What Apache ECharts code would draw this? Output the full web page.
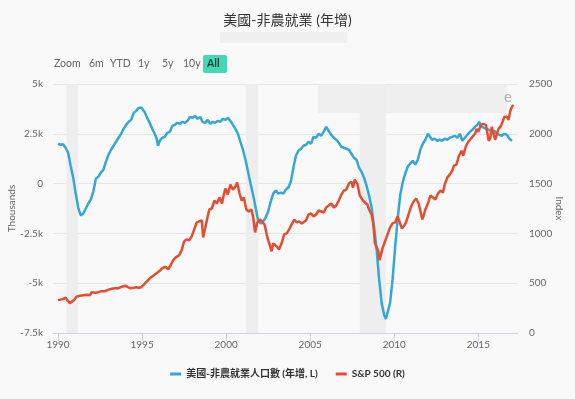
<!DOCTYPE html>
<html>
<head>
<meta charset="utf-8">
<script src="https://cdn.jsdelivr.net/npm/echarts/dist/echarts.min.js"></script>
<style>
  html, body { margin: 0; padding: 0; background: #f9f9f9; }
  #chars { width: 575px; height: 399px; }
</style>
</head>
<body>
<div id="chars"></div>
<script>
// 非農就業 年增 (千人) —— 年份用小數表示
var blueYears = [1990.0,1990.15,1990.3,1990.45,1990.6,1990.75,1990.9,1991.05,1991.2,1991.35,1991.5,1991.65,1991.8,1991.95,
  1992.1,1992.25,1992.4,1992.55,1992.7,1992.85,1993.0,1993.15,1993.3,1993.45,1993.6,1993.75,1993.9,1994.05,1994.2,1994.35,
  1994.5,1994.65,1994.8,1994.95,1995.05,1995.15,1995.3,1995.45,1995.6,1995.75,1995.85,1995.95,1996.05,1996.2,1996.35,1996.5,
  1996.65,1996.8,1996.95,1997.1,1997.25,1997.4,1997.55,1997.7,1997.85,1998.0,1998.15,1998.3,1998.45,1998.6,1998.75,1998.9,
  1999.05,1999.2,1999.35,1999.5,1999.65,1999.8,1999.95,2000.1,2000.25,2000.4,2000.55,2000.7,2000.85,2001.0,2001.15,2001.3,
  2001.45,2001.6,2001.75,2001.9,2002.05,2002.2,2002.35,2002.5,2002.65,2002.8,2002.95,2003.1,2003.25,2003.4,2003.55,2003.7,
  2003.85,2004.0,2004.15,2004.3,2004.45,2004.6,2004.75,2004.9,2005.05,2005.2,2005.35,2005.5,2005.65,2005.8,2005.95,2006.1,
  2006.25,2006.4,2006.55,2006.7,2006.85,2007.0,2007.15,2007.3,2007.45,2007.6,2007.75,2007.9,2008.05,2008.2,2008.35,2008.5,
  2008.65,2008.8,2008.95,2009.1,2009.25,2009.4,2009.5,2009.6,2009.75,2009.9,2010.05,2010.2,2010.35,2010.5,2010.65,2010.8,
  2010.95,2011.1,2011.25,2011.4,2011.55,2011.7,2011.85,2012.0,2012.1,2012.25,2012.4,2012.55,2012.7,2012.85,2013.0,2013.15,
  2013.3,2013.45,2013.6,2013.75,2013.9,2014.05,2014.2,2014.35,2014.5,2014.65,2014.8,2014.95,2015.05,2015.2,2015.35,2015.5,
  2015.65,2015.8,2015.95,2016.1,2016.25,2016.4,2016.55,2016.7,2016.85,2017.0];
var blueVals = [2000,1950,1970,1800,1550,900,300,-500,-1200,-1600,-1500,-1250,-1000,-800,
  -400,250,350,550,700,1100,1450,1700,1900,2100,2300,2500,2750,2950,3100,3200,
  3550,3650,3800,3820,3880,3600,3300,3050,2750,2500,2300,1900,2150,2300,2350,2550,
  2600,2900,2950,3050,3000,3100,3050,3150,3350,3300,3400,3250,3350,3100,3050,3200,
  3000,3100,3050,3150,3100,3250,3200,3300,3150,2950,2750,2500,2100,1700,1200,600,
  0,-550,-1200,-1850,-2000,-1900,-1700,-1400,-900,-500,-350,-500,-450,-500,-300,-200,
  100,800,1400,1650,1750,1900,1950,2100,2000,2350,2300,2500,2400,2600,2850,2650,
  2450,2300,2200,2050,1850,1800,1750,1700,1500,1300,1200,800,600,300,-100,-600,
  -1200,-2200,-3300,-4800,-6000,-6600,-6800,-6700,-6000,-4800,-3200,-1800,-600,50,500,850,
  1000,1150,950,1200,1700,2000,2200,2500,2450,2200,2250,2150,2200,2150,2250,2200,
  2300,2350,2400,2300,2500,2150,2300,2450,2600,2700,2850,2950,3100,2850,2800,2750,
  2700,2600,2650,2500,2450,2400,2500,2450,2250,2150];

// S&P 500 指數
var spxYears = [1990.0,1990.15,1990.3,1990.45,1990.55,1990.7,1990.8,1990.95,1991.1,1991.3,1991.5,1991.7,1991.9,
  1992.0,1992.2,1992.4,1992.6,1992.8,1993.0,1993.2,1993.4,1993.6,1993.8,1994.0,1994.15,1994.3,1994.5,1994.65,1994.8,1994.95,
  1995.1,1995.3,1995.5,1995.7,1995.9,1996.05,1996.2,1996.4,1996.55,1996.7,1996.85,1997.0,1997.2,1997.35,1997.5,1997.65,
  1997.8,1997.95,1998.1,1998.25,1998.4,1998.55,1998.63,1998.75,1998.9,1999.0,1999.15,1999.3,1999.45,1999.6,1999.75,1999.85,
  1999.95,2000.1,2000.25,2000.4,2000.55,2000.65,2000.8,2000.92,2001.05,2001.2,2001.35,2001.5,2001.6,2001.72,2001.85,2002.0,
  2002.15,2002.3,2002.45,2002.6,2002.7,2002.8,2002.9,2003.0,2003.15,2003.3,2003.45,2003.6,2003.75,2003.9,2004.05,2004.2,
  2004.35,2004.5,2004.6,2004.75,2004.9,2005.05,2005.2,2005.35,2005.5,2005.65,2005.8,2005.95,2006.1,2006.25,2006.4,2006.55,
  2006.7,2006.85,2007.0,2007.15,2007.3,2007.45,2007.55,2007.65,2007.8,2007.95,2008.1,2008.25,2008.4,2008.5,2008.65,2008.75,
  2008.85,2008.95,2009.05,2009.12,2009.3,2009.45,2009.6,2009.75,2009.9,2010.05,2010.2,2010.3,2010.45,2010.6,2010.7,2010.85,
  2011.0,2011.15,2011.3,2011.45,2011.55,2011.67,2011.75,2011.85,2012.0,2012.15,2012.3,2012.45,2012.6,2012.75,2012.9,2013.0,
  2013.15,2013.3,2013.45,2013.55,2013.7,2013.85,2014.0,2014.1,2014.25,2014.4,2014.55,2014.65,2014.8,2014.9,2015.0,2015.15,
  2015.3,2015.45,2015.55,2015.62,2015.72,2015.8,2015.9,2016.0,2016.1,2016.2,2016.35,2016.45,2016.55,2016.7,2016.8,2016.9,
  2017.0,2017.08];
var spxVals = [330,335,340,355,330,300,310,330,365,375,380,385,380,
  410,405,410,420,420,435,445,450,450,465,475,460,450,455,460,455,460,
  485,520,555,580,605,625,650,665,640,680,730,760,780,830,920,940,
  930,970,1040,1110,1120,1130,960,1050,1170,1240,1250,1330,1300,1360,1300,1380,
  1450,1390,1490,1440,1470,1510,1400,1330,1360,1240,1220,1240,1170,1010,1110,1140,
  1120,1080,960,880,820,900,920,870,840,900,990,1000,1040,1090,1140,1110,
  1120,1100,1090,1130,1190,1200,1170,1190,1230,1220,1210,1260,1280,1300,1260,1280,
  1330,1390,1430,1440,1500,1520,1460,1540,1500,1380,1340,1310,1290,1240,1190,1100,
  900,880,820,730,850,920,990,1060,1100,1110,1170,1190,1050,1080,1110,1190,
  1270,1320,1350,1300,1290,1140,1180,1240,1300,1380,1360,1340,1400,1430,1410,1490,
  1560,1590,1630,1680,1690,1780,1830,1780,1870,1920,1950,1930,2000,2050,2020,2090,
  2100,2090,2100,1930,1960,2070,2050,1940,1930,2050,2080,2090,2170,2170,2140,2230,
  2270,2290];

// 衰退期陰影
var recessions = [[1990.5, 1991.2], [2001.17, 2001.9], [2007.95, 2009.5]];
var xTicks = [1990, 1995, 2000, 2005, 2010, 2015];

var font = 'Lato, "Noto Sans CJK TC", sans-serif';
var blueData = blueYears.map(function (y, i) { return [y, blueVals[i]]; });
var spxData = spxYears.map(function (y, i) { return [y, spxVals[i]]; });

// 範圍按鈕
var buttons = [['Zoom', 54], ['6m', 89], ['YTD', 110], ['1y', 138], ['5y', 162], ['10y', 183]];
var graphics = buttons.map(function (b) {
	return { type: 'text', left: b[1], top: 58, style: { text: b[0], font: '10.5px ' + font, fill: '#666' } };
});
graphics.push({ type: 'rect', left: 203, top: 55, shape: { width: 24, height: 18, r: 2 }, style: { fill: '#46d8b5' } });
graphics.push({ type: 'text', left: 207, top: 58, style: { text: 'All', font: 'bold 10.5px ' + font, fill: '#1b3a33' } });
graphics.push({ type: 'rect', left: 220, top: 32, shape: { width: 127, height: 11 }, style: { fill: '#efefef' } });
graphics.push({ type: 'rect', left: 318, top: 84, shape: { width: 189, height: 29 }, style: { fill: '#efefef' } });
graphics.push({ type: 'text', left: 504, top: 90, style: { text: 'e', font: '15px ' + font, fill: '#b0b0b0' } });

var myChart = echarts.init(document.getElementById('chars'));
myChart.setOption({
	backgroundColor: '#f9f9f9',
	animation: false,
	textStyle: { fontFamily: font },
	title: {
		text: '美國-非農就業 (年增)',
		left: 'center',
		top: 8,
		textStyle: { fontSize: 14, fontWeight: 'normal', color: '#333', fontFamily: font }
	},
	legend: {
		bottom: 15,
		left: 'center',
		itemWidth: 11,
		itemHeight: 3,
		itemGap: 18,
		icon: 'rect',
		textStyle: { fontSize: 10, fontWeight: 'bold', color: '#333' },
		data: ['美國-非農就業人口數 (年增, L)', 'S&P 500 (R)']
	},
	graphic: graphics,
	grid: { left: 53, right: 57, top: 84, bottom: 66, containLabel: false, outerBoundsMode: 'none' },
	xAxis: {
		type: 'value',
		min: 1989.7,
		max: 2017.36,
		splitLine: { show: false },
		axisLine: { onZero: false, lineStyle: { color: '#ccd6eb' } },
		axisTick: { show: true, length: 8, customValues: xTicks, lineStyle: { color: '#ccd6eb' } },
		axisLabel: {
			customValues: xTicks, color: '#666', fontSize: 10, margin: 7,
			formatter: function (v) { return String(v); }
		}
	},
	yAxis: [
		{
			type: 'value',
			min: -7500,
			max: 5000,
			interval: 2500,
			name: 'Thousands',
			nameLocation: 'middle',
			nameGap: 36,
			nameMoveOverlap: false,
			nameTextStyle: { color: '#666', fontSize: 10 },
			axisLine: { show: false },
			axisTick: { show: false },
			splitLine: { lineStyle: { color: '#e6e6e6' } },
			axisLabel: {
				color: '#666', fontSize: 10, margin: 10,
				formatter: function (v) { return v === 0 ? '0' : (v / 1000) + 'k'; }
			}
		},
		{
			type: 'value',
			min: 0,
			max: 2500,
			interval: 500,
			name: 'Index',
			nameLocation: 'middle',
			nameGap: 36,
			nameMoveOverlap: false,
			nameRotate: -90,
			nameTextStyle: { color: '#666', fontSize: 10 },
			axisLine: { show: false },
			axisTick: { show: false },
			splitLine: { show: false },
			axisLabel: {
				color: '#666', fontSize: 10, margin: 11,
				formatter: function (v) { return String(v); }
			}
		}
	],
	series: [
		{
			name: '美國-非農就業人口數 (年增, L)',
			type: 'line',
			yAxisIndex: 0,
			data: blueData,
			showSymbol: false,
			color: '#35a7d5',
			lineStyle: { width: 2.5 },
			markArea: {
				silent: true,
				itemStyle: { color: '#eeeeee' },
				data: recessions.map(function (r) { return [{ xAxis: r[0] }, { xAxis: r[1] }]; })
			}
		},
		{
			name: 'S&P 500 (R)',
			type: 'line',
			yAxisIndex: 1,
			data: spxData,
			showSymbol: false,
			color: '#e54c30',
			lineStyle: { width: 2.5 }
		}
	]
});
</script>
</body>
</html>
